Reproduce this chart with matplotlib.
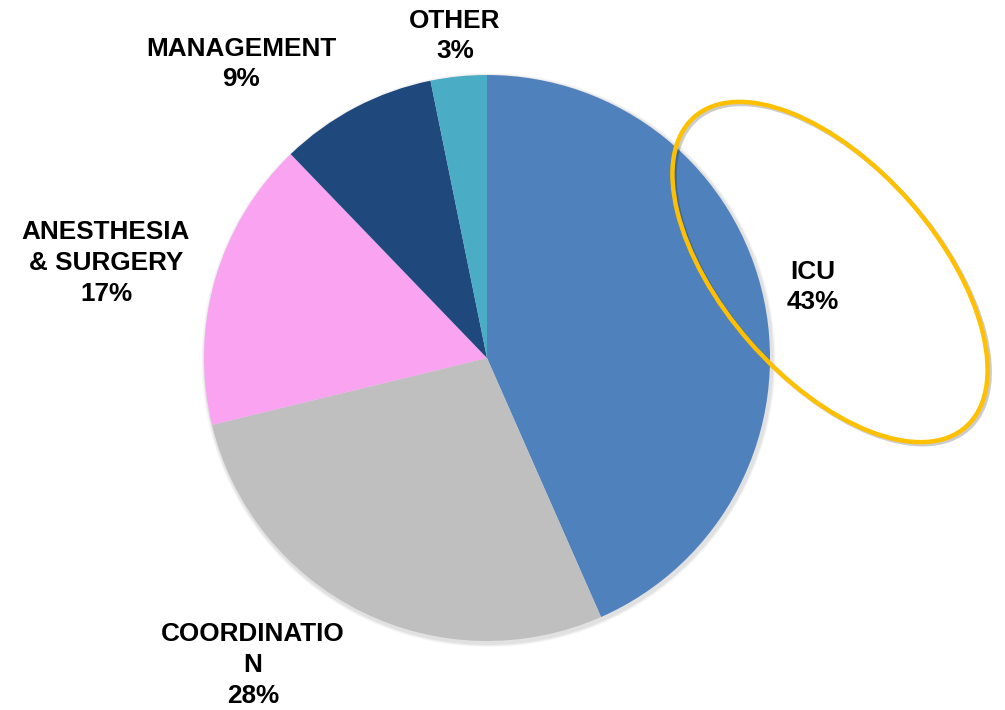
import matplotlib.pyplot as plt
from matplotlib.patches import Ellipse, Circle
import matplotlib.patheffects as pe

categories = ['ICU', 'COORDINATIO\nN', 'ANESTHESIA\n& SURGERY', 'MANAGEMENT', 'OTHER']
values = [43.4, 27.8, 16.6, 9.0, 3.2]
pct_labels = ['43%', '28%', '17%', '9%', '3%']
colors = ['#4F81BD', '#BFBFBF', '#F9A3F1', '#1F497D', '#4BACC6']

# label block centres in pixel coords (top-left origin)
label_pos = [(813, 287), (253, 665), (106, 263), (241, 64), (455, 36)]

plt.rcParams['font.family'] = ['Liberation Sans', 'DejaVu Sans']

fig = plt.figure(figsize=(10.05, 7.1), dpi=100)
ax = fig.add_axes([0, 0, 1, 1])

cx, cy, r = 487, 352, 283

# soft shadow behind the whole pie
for k, a in [(4, 0.06), (3, 0.08), (2, 0.10)]:
    ax.add_patch(Circle((cx + 1.5, cy - 2), r + k, color='#808080', alpha=a, lw=0, zorder=0))

wedges, _ = ax.pie(values, colors=colors, startangle=90, counterclock=False,
                   center=(cx, cy), radius=r, frame=True)

ax.add_patch(Ellipse((830, 438), 412, 213, angle=-48.8, fill=False,
                     edgecolor='#FFC000', linewidth=3.2, zorder=5,
                     path_effects=[pe.SimpleLineShadow(offset=(1.5, -1.5), alpha=0.2), pe.Normal()]))

for name, pct, (x, y) in zip(categories, pct_labels, label_pos):
    ax.text(x, 710 - y, name + '\n' + pct, ha='center', va='center',
            fontsize=18.8, fontweight='bold', color='black', zorder=6,
            linespacing=1.35)

ax.set_xlim(0, 1005)
ax.set_ylim(0, 710)
ax.set_aspect('auto')
ax.axis('off')

fig.savefig('out.png', dpi=100)
